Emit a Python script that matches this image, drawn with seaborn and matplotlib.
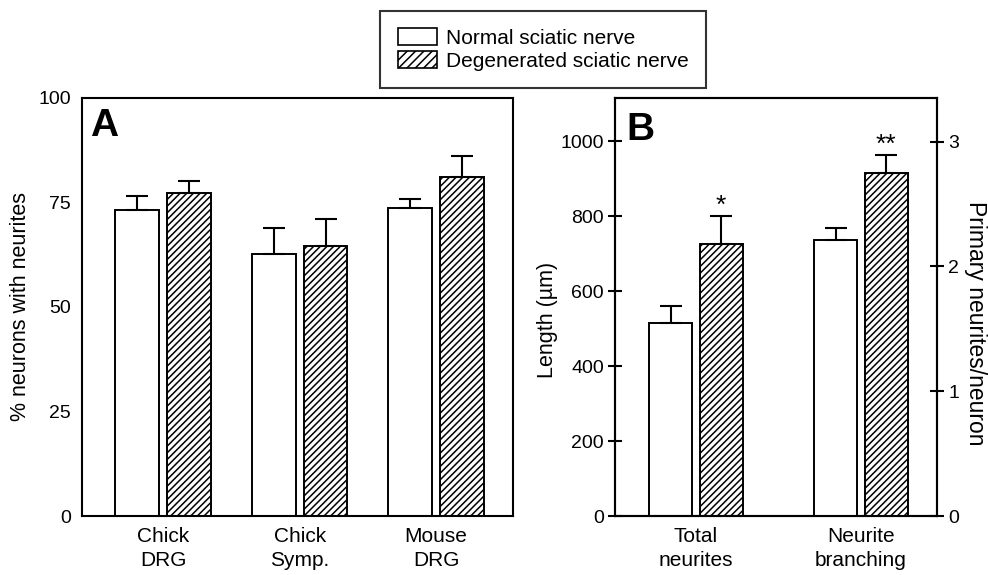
import numpy as np
import pandas as pd
import matplotlib
matplotlib.use("Agg")
import matplotlib.pyplot as plt
from matplotlib.patches import Patch
import seaborn as sns

sns.set_theme(style="white")
plt.rcParams['font.family'] = ['Liberation Sans', 'DejaVu Sans']
plt.rcParams['hatch.linewidth'] = 1.1
plt.rcParams['axes.edgecolor'] = 'black'
plt.rcParams['axes.linewidth'] = 1.5
plt.rcParams['text.color'] = 'black'
plt.rcParams['axes.labelcolor'] = 'black'
plt.rcParams['xtick.color'] = 'black'
plt.rcParams['ytick.color'] = 'black'

# ---- data ----
conditions = ['Normal sciatic nerve', 'Degenerated sciatic nerve']

# Panel A: % neurons with neurites
cells_a = ['Chick DRG', 'Chick Symp.', 'Mouse DRG']
labels_a = ['Chick\nDRG', 'Chick\nSymp.', 'Mouse\nDRG']
normal_a = [73.2, 62.7, 73.8]
normal_a_err = [3.3, 6.2, 2.1]
degen_a = [77.3, 64.7, 81.1]
degen_a_err = [2.8, 6.4, 5.1]

# Panel B: total neurite length (left axis) and branching (right axis)
measures_b = ['Total neurites', 'Neurite branching']
labels_b = ['Total\nneurites', 'Neurite\nbranching']
length_vals = [514, 725]          # normal, degenerated (um)
length_err = [46, 75]
branch_vals = [2.21, 2.75]        # normal, degenerated (primary neurites/neuron)
branch_err = [0.10, 0.14]
stars_b = ['*', '**']             # significance marks on degenerated bars

fig = plt.figure(figsize=(9.88, 5.75), dpi=100)
ax_a = fig.add_axes([0.083, 0.1026, 0.436, 0.727])
ax_b = fig.add_axes([0.6225, 0.1026, 0.3259, 0.727])
ax_b2 = ax_b.twinx()

HATCH = '/////'
bar_kw = dict(hue='Condition', hue_order=conditions,
              palette={c: 'white' for c in conditions}, saturation=1,
              edgecolor='black', linewidth=1.4, errorbar=None, legend=False)
err_kw = dict(fmt='none', ecolor='black', elinewidth=1.5, capsize=8, capthick=1.5)


def add_errors(ax, container, errs):
    xs = [b.get_x() + b.get_width() / 2 for b in container]
    ys = [b.get_height() for b in container]
    ax.errorbar(xs, ys, yerr=[np.zeros(len(errs)), errs], zorder=1, **err_kw)


def style_axis(ax):
    for s in ax.spines.values():
        s.set_visible(True)
        s.set_linewidth(1.5)
        s.set_color('black')
    ax.tick_params(axis='y', direction='inout', length=10, width=1.5,
                   labelsize=14, pad=3, colors='black')
    ax.tick_params(axis='x', length=0, labelsize=15, pad=8)


# ---- panel A ----
df_a = pd.DataFrame({
    'Cell': cells_a * 2,
    'Condition': [conditions[0]] * 3 + [conditions[1]] * 3,
    'value': normal_a + degen_a,
})
sns.barplot(data=df_a, x='Cell', y='value', order=cells_a,
            width=0.76, gap=0.155, ax=ax_a, **bar_kw)
for bar in ax_a.containers[1]:
    bar.set_hatch(HATCH)
add_errors(ax_a, ax_a.containers[0], normal_a_err)
add_errors(ax_a, ax_a.containers[1], degen_a_err)

ax_a.set_ylim(0, 100)
ax_a.set_yticks([0, 25, 50, 75, 100])
ax_a.set_xlim(-0.596, 2.563)
ax_a.set_xticks(range(len(cells_a)))
ax_a.set_xticklabels(labels_a, linespacing=1.3)
ax_a.set_xlabel('')
ax_a.set_ylabel('% neurons with neurites', fontsize=15.5, labelpad=5)
style_axis(ax_a)
ax_a.annotate('A', xy=(0, 1), xycoords='axes fraction', xytext=(6, -7),
              textcoords='offset points', ha='left', va='top',
              fontsize=28, fontweight='bold')

# ---- panel B ----
df_len = pd.DataFrame({'Measure': [measures_b[0]] * 2, 'Condition': conditions,
                       'value': length_vals})
df_branch = pd.DataFrame({'Measure': [measures_b[1]] * 2, 'Condition': conditions,
                          'value': branch_vals})
sns.barplot(data=df_len, x='Measure', y='value', order=measures_b,
            width=0.613, gap=0.15, ax=ax_b, **bar_kw)
sns.barplot(data=df_branch, x='Measure', y='value', order=measures_b,
            width=0.613, gap=0.15, ax=ax_b2, **bar_kw)
for ax in (ax_b, ax_b2):
    for bar in ax.containers[1]:
        bar.set_hatch(HATCH)
add_errors(ax_b, ax_b.containers[0], length_err[:1])
add_errors(ax_b, ax_b.containers[1], length_err[1:])
add_errors(ax_b2, ax_b2.containers[0], branch_err[:1])
add_errors(ax_b2, ax_b2.containers[1], branch_err[1:])

ax_b.set_ylim(0, 1116)
ax_b.set_yticks([0, 200, 400, 600, 800, 1000])
ax_b2.set_ylim(0, 3.35)
ax_b2.set_yticks([0, 1, 2, 3])
ax_b.set_xlim(-0.49, 1.462)
ax_b.set_xticks(range(len(measures_b)))
ax_b.set_xticklabels(labels_b, linespacing=1.3)
ax_b.set_xlabel('')
ax_b2.set_xlabel('')
ax_b.set_ylabel('Length (µm)', fontsize=15.5)
ax_b.yaxis.set_label_coords(-0.178, 0.47)
ax_b2.set_ylabel('Primary neurites/neuron', fontsize=16.5, rotation=270)
ax_b2.yaxis.set_label_coords(1.155, 0.46)
style_axis(ax_b)
style_axis(ax_b2)
ax_b2.tick_params(axis='y', right=True, left=False, labelright=True, labelleft=False)

# significance stars above degenerated bars
for ax, cont, err, star in [(ax_b, ax_b.containers[1], length_err[1], stars_b[0]),
                            (ax_b2, ax_b2.containers[1], branch_err[1], stars_b[1])]:
    b = cont[0]
    ax.annotate(star, xy=(b.get_x() + b.get_width() / 2, b.get_height() + err),
                xytext=(0, -1), textcoords='offset points', ha='center', va='bottom',
                fontsize=19)

ax_b2.annotate('B', xy=(0, 1), xycoords='axes fraction', xytext=(8, -10),
               textcoords='offset points', ha='left', va='top',
               fontsize=28, fontweight='bold')

# ---- legend ----
handles = [Patch(facecolor='white', edgecolor='black', linewidth=1.2),
           Patch(facecolor='white', edgecolor='black', linewidth=1.2, hatch='////')]
leg = fig.legend(handles, conditions, loc='center', bbox_to_anchor=(0.55, 0.914),
                 fontsize=15, frameon=True, fancybox=False, edgecolor='black',
                 handlelength=1.85, handleheight=0.87, labelspacing=0.15,
                 borderpad=0.85, handletextpad=0.45, borderaxespad=0)
leg.get_frame().set_linewidth(1.5)

fig.savefig('out.png', dpi=100)
